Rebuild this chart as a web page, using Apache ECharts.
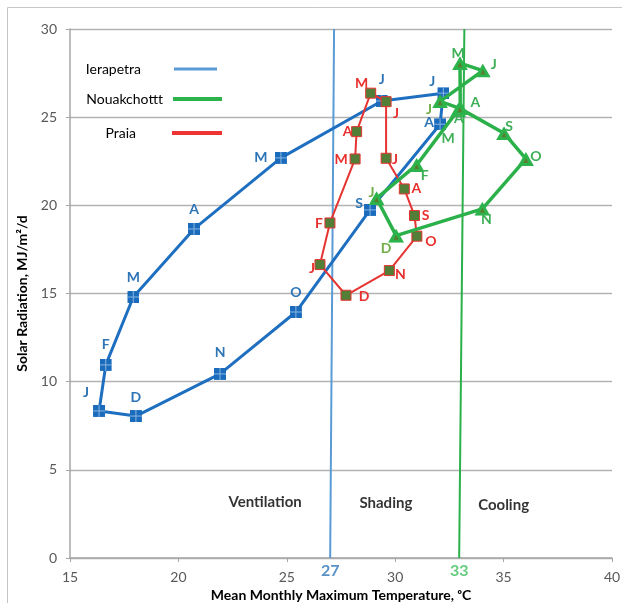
<!DOCTYPE html>
<html>
<head>
<meta charset="utf-8">
<script src="https://cdn.jsdelivr.net/npm/echarts@6/dist/echarts.min.js"></script>
<style>
html, body { margin: 0; padding: 0; background: #fff; }
#chart { width: 622px; height: 603px; }
</style>
</head>
<body>
<div id="chart"></div>
<script>
// month initials, Jan..Dec
const months = ['J', 'F', 'M', 'A', 'M', 'J', 'J', 'A', 'S', 'O', 'N', 'D']

// Ierapetra
const ierTemp = [16.34, 16.65, 17.92, 20.72, 24.73, 29.38, 32.22, 32.07, 28.84, 25.42, 21.92, 18.04]
const ierRad = [8.34, 10.95, 14.80, 18.66, 22.69, 25.92, 26.36, 24.60, 19.74, 13.95, 10.44, 8.05]

// Nouakchottt
const nouTemp = [29.14, 30.99, 32.90, 33.00, 32.99, 34.04, 32.07, 32.98, 35.02, 36.03, 34.02, 30.04]
const nouRad = [20.40, 22.29, 25.40, 25.55, 28.06, 27.64, 25.90, 25.50, 24.09, 22.63, 19.80, 18.28]

// Praia
const praTemp = [26.53, 26.99, 28.15, 28.22, 28.87, 29.58, 29.58, 30.42, 30.89, 31.00, 29.73, 27.73]
const praRad = [16.64, 19.00, 22.63, 24.18, 26.36, 25.88, 22.67, 20.93, 19.42, 18.25, 16.30, 14.90]

// limit lines (bottom / top temperature, radiation span)
const limitLabels = ['27', '33']
const limitTempBottom = [27.0, 32.95]
const limitTempTop = [27.18, 33.19]
const limitRad = [0, 30]

// zone captions
const zoneNames = ['Ventilation', 'Shading', 'Cooling']
const zoneTemp = [24.0, 29.57, 35.0]
const zoneRad = [3.15, 3.1, 3.0]

// axes
const xTicks = [15, 40, 5]
const yTicks = [0, 30, 5]

// label placement (pixels from the point)
const ierOffsets = [[-13, -18], [0, -20], [0, -20], [0, -19], [-20, 0], [0, -21], [-11, -12], [-11, -2], [-11, -6], [0, -20], [0, -21], [0, -19]]
const praOffsets = [[-8, 4], [-11, 1], [-14, 1], [-9, 0], [-9, -10], [10, 12], [9, 1], [12, 0], [11, 0], [14, 5], [11, 4], [18, 1]]
const nouOffsets = [[-5, -6], [8, 11], [-10, 28], [15, -5], [-2, -10], [11, -6], [-11, 8], [-1, 10], [5, -7], [10, -2], [4, 11], [-10, 13]]

const FONT = 'Lato, "Open Sans", sans-serif'
const BLUE = '#1e6fc0'
const RED = '#e53431'
const GREEN = '#2bb04a'
const limitColors = ['#5b9bd5', '#2bb04a']
const limitLabelColors = ['#2e75b6', '#3cbf5c']

const nouLabelColors = ['#70ad47', '#3daf57', '#3daf57', '#3daf57', '#3daf57', '#3daf57', '#70ad47', '#3daf57', '#3daf57', '#3daf57', '#3daf57', '#70ad47']

const svgIcon = svg => 'image://data:image/svg+xml;charset=utf-8,' + encodeURIComponent(svg)

const blueMarker = svgIcon("<svg xmlns='http://www.w3.org/2000/svg' width='12' height='12'><rect width='12' height='12' fill='#1a6bbb'/><path d='M6 0V12M0 6H12' stroke='#8ab6e2' stroke-width='1'/></svg>")
const greenMarker = svgIcon("<svg xmlns='http://www.w3.org/2000/svg' width='16' height='14'><path d='M8 0L16 14H0Z' fill='#2db34c'/><path d='M8 6L10.5 11H5.5Z' fill='#5a7d2e'/></svg>")

// build point list, closing the loop back to January
const monthData = (xs, ys, offsets, colorOf) => {
  const data = xs.map((x, i) => ({
    value: [x, ys[i]],
    label: {
      show: true,
      formatter: months[i],
      position: 'inside',
      offset: offsets[i],
      color: colorOf(i)
    }
  }))
  data.push({ value: [xs[0], ys[0]], symbol: 'none', label: { show: false } })
  return data
}

const labelFont = { fontFamily: FONT, fontWeight: 'bold', fontSize: 14 }

const chart = echarts.init(document.getElementById('chart'))

const limitSeries = limitLabels.map((txt, i) => ({
  name: 'limit' + txt,
  type: 'line',
  symbol: 'none',
  silent: true,
  z: 1,
  lineStyle: { color: limitColors[i], width: 2 },
  data: [[limitTempBottom[i], limitRad[0]], [limitTempTop[i], limitRad[1]]]
}))

const option = {
  animation: false,
  graphic: [{
    type: 'rect',
    silent: true,
    z: -10,
    shape: { x: 7.5, y: 7.5, width: 700, height: 700 },
    style: { fill: 'none', stroke: '#c6c6c6', lineWidth: 1 }
  }],
  legend: [
    {
      right: 405, top: 62, padding: 0, align: 'right', orient: 'vertical',
      itemWidth: 43, itemHeight: 3,
      textStyle: { fontFamily: FONT, fontSize: 14, color: '#000', padding: [0, 28, 0, 0] },
      data: [{ name: 'Ierapetra', icon: 'rect', itemStyle: { color: '#5b9bd5', borderWidth: 0 } }]
    },
    {
      right: 400, top: 92, padding: 0, align: 'right', orient: 'vertical',
      itemWidth: 49, itemHeight: 4,
      textStyle: { fontFamily: FONT, fontSize: 14, color: '#000', padding: [0, 5, 0, 0] },
      data: [{ name: 'Nouakchottt', icon: 'rect', itemStyle: { color: '#2db34c', borderWidth: 0 } }]
    },
    {
      right: 400, top: 126, padding: 0, align: 'right', orient: 'vertical',
      itemWidth: 50, itemHeight: 4,
      textStyle: { fontFamily: FONT, fontSize: 14, color: '#000', padding: [0, 31, 0, 0] },
      data: [{ name: 'Praia', icon: 'rect', itemStyle: { color: '#ee3333', borderWidth: 0 } }]
    }
  ],
  grid: { left: 70, right: 10, top: 29, bottom: 45, outerBoundsMode: 'none' },
  xAxis: {
    type: 'value',
    min: xTicks[0], max: xTicks[1], interval: xTicks[2],
    name: 'Mean Monthly Maximum Temperature, ᵒC',
    nameLocation: 'middle',
    nameGap: 27,
    nameTextStyle: { fontFamily: FONT, fontWeight: 'bold', fontSize: 14, color: '#000' },
    axisLine: { lineStyle: { color: '#a6a6a6', width: 1.5 } },
    axisTick: { show: true, length: 4, lineStyle: { color: '#a6a6a6' } },
    axisLabel: { fontFamily: FONT, fontSize: 14, color: '#595959', margin: 12 },
    splitLine: { show: false }
  },
  yAxis: {
    type: 'value',
    min: yTicks[0], max: yTicks[1], interval: yTicks[2],
    name: 'Solar Radiation, MJ/m²/d',
    nameLocation: 'middle',
    nameGap: 36,
    nameTextStyle: { fontFamily: FONT, fontWeight: 'bold', fontSize: 14, color: '#000' },
    axisLine: { show: true, lineStyle: { color: '#a6a6a6', width: 1.5 } },
    axisTick: { show: true, length: 4, lineStyle: { color: '#a6a6a6' } },
    axisLabel: { fontFamily: FONT, fontSize: 14, color: '#595959', margin: 13 },
    splitLine: { show: true, lineStyle: { color: '#b3b3b3', width: 1.3 } }
  },
  series: [
    ...limitSeries,
    {
      name: 'limitLabels',
      type: 'scatter',
      symbolSize: 0,
      silent: true,
      label: {
        show: true, position: 'inside', offset: [0, 13],
        formatter: p => limitLabels[p.dataIndex],
        fontFamily: FONT, fontWeight: 'bold', fontSize: 16
      },
      data: limitTempBottom.map((x, i) => ({
        value: [x, limitRad[0]],
        label: { color: limitLabelColors[i] }
      }))
    },
    {
      name: 'zones',
      type: 'scatter',
      symbolSize: 0,
      silent: true,
      label: {
        show: true, position: 'inside', formatter: p => zoneNames[p.dataIndex],
        color: '#000', fontFamily: FONT, fontWeight: 'bold', fontSize: 15
      },
      data: zoneTemp.map((x, i) => [x, zoneRad[i]])
    },
    {
      name: 'Ierapetra',
      type: 'line',
      z: 3,
      symbol: blueMarker,
      symbolSize: 12,
      showAllSymbol: true,
      lineStyle: { color: BLUE, width: 3 },
      itemStyle: { color: BLUE },
      label: labelFont,
      data: monthData(ierTemp, ierRad, ierOffsets, () => '#2e75b6')
    },
    {
      name: 'Praia',
      type: 'line',
      z: 4,
      symbol: 'rect',
      symbolSize: 10,
      showAllSymbol: true,
      lineStyle: { color: RED, width: 2 },
      itemStyle: { color: '#527e37', borderColor: RED, borderWidth: 1 },
      label: labelFont,
      data: monthData(praTemp, praRad, praOffsets, () => '#e8312f')
    },
    {
      name: 'Nouakchottt',
      type: 'line',
      z: 5,
      symbol: greenMarker,
      symbolSize: [16, 14],
      showAllSymbol: true,
      lineStyle: { color: GREEN, width: 3.5 },
      itemStyle: { color: GREEN },
      label: labelFont,
      data: monthData(nouTemp, nouRad, nouOffsets, i => nouLabelColors[i])
    }
  ]
}

chart.setOption(option)
</script>
</body>
</html>
